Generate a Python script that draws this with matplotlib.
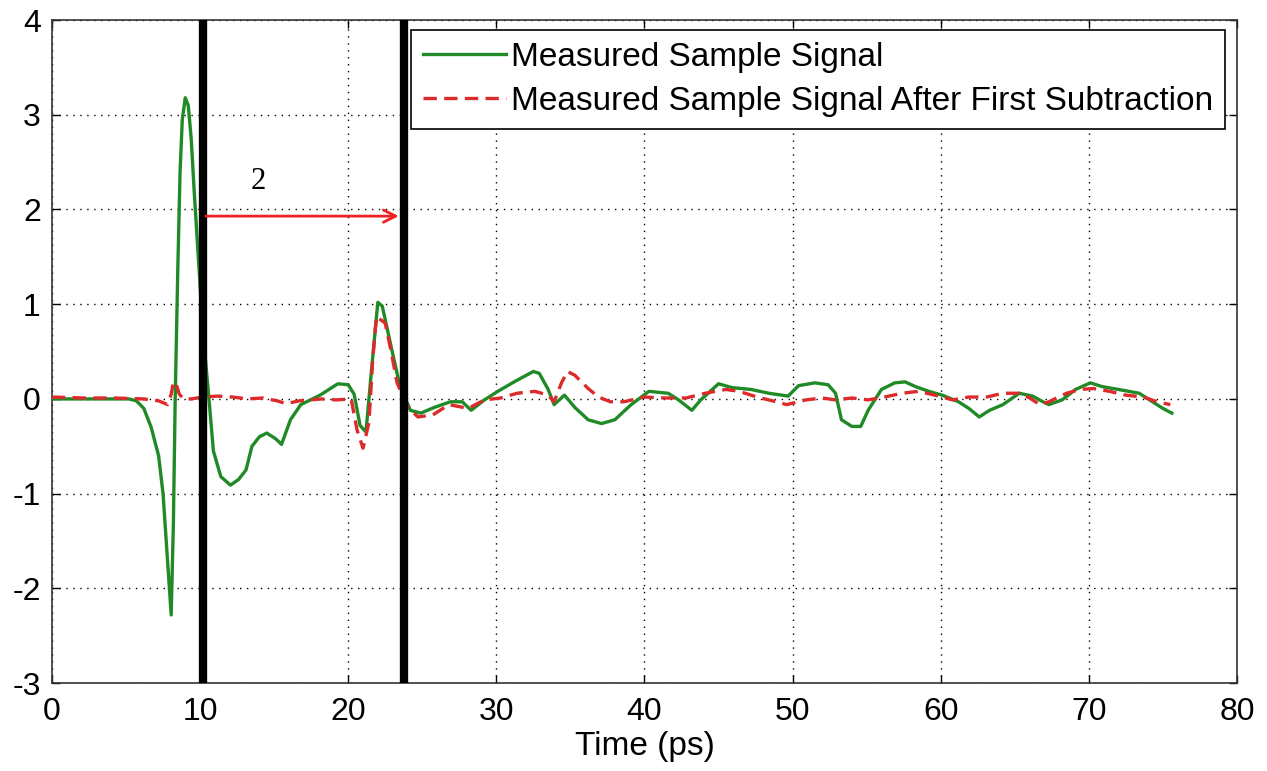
import matplotlib
matplotlib.use("Agg")
import matplotlib.pyplot as plt

plt.rcParams['font.family'] = ['Liberation Sans', 'DejaVu Sans']
plt.rcParams['axes.unicode_minus'] = False

# Measured sample signal (green)
t_green = [0, 2.2, 4.2, 5.2, 5.7, 6.2, 6.7, 7.2, 7.5, 7.8, 8.05, 8.2, 8.32, 8.5, 8.65,
           8.8, 9.0, 9.2, 9.4, 9.6, 9.9, 10.2, 10.6, 10.9, 11.4, 12.05, 12.6, 13.1,
           13.5, 14.0, 14.5, 15.1, 15.5, 16.1, 16.8, 18.1, 19.3, 20.0, 20.4, 20.8,
           21.2, 21.6, 22.0, 22.3, 22.9, 23.5, 24.2, 24.9, 25.8, 26.9, 27.7, 28.3,
           29.2, 30.1, 31.2, 32.5, 32.9, 33.5, 33.9, 34.6, 35.3, 36.2, 37.1, 38.0,
           39.1, 40.3, 41.6, 42.3, 43.2, 43.8, 45.0, 45.9, 47.2, 48.4, 49.7, 50.4,
           51.5, 52.4, 52.9, 53.3, 54.0, 54.6, 55.1, 56.0, 56.9, 57.6, 58.3, 59.2,
           60.1, 61.2, 61.9, 62.6, 63.3, 64.2, 65.3, 66.2, 66.9, 67.3, 68.2, 69.1,
           70.1, 70.9, 72.0, 73.4, 74.3, 75.0, 75.6]
v_green = [0, 0, 0, 0, -0.02, -0.1, -0.3, -0.6, -1.0, -1.7, -2.28, -1.3, 0.0, 1.4, 2.4,
           2.95, 3.18, 3.1, 2.75, 2.2, 1.45, 0.7, 0.0, -0.55, -0.82, -0.91, -0.85,
           -0.75, -0.5, -0.4, -0.36, -0.42, -0.48, -0.22, -0.06, 0.04, 0.16, 0.15,
           0.05, -0.28, -0.35, 0.35, 1.02, 0.98, 0.55, 0.13, -0.12, -0.15, -0.09,
           -0.03, -0.03, -0.12, -0.01, 0.08, 0.18, 0.29, 0.27, 0.1, -0.06, 0.04,
           -0.09, -0.22, -0.26, -0.22, -0.06, 0.08, 0.06, -0.01, -0.12, -0.01, 0.16,
           0.12, 0.10, 0.06, 0.03, 0.14, 0.17, 0.15, 0.06, -0.22, -0.29, -0.29,
           -0.12, 0.1, 0.17, 0.18, 0.13, 0.08, 0.04, -0.03, -0.10, -0.19, -0.12,
           -0.06, 0.06, 0.03, -0.03, -0.06, -0.01, 0.10, 0.17, 0.13, 0.10, 0.06,
           -0.03, -0.10, -0.15]

# Signal after first subtraction (red dashed)
t_red = [0, 2.2, 4.2, 6.2, 7.2, 7.8, 8.05, 8.2, 8.4, 8.6, 8.9, 9.4, 10.2, 11.2, 12.2,
         13.2, 14.2, 15.2, 15.8, 16.7, 18.2, 19.2, 20.2, 20.6, 21.0, 21.4, 21.65,
         21.9, 22.5, 22.9, 23.3, 24.0, 24.7, 25.7, 26.8, 28.1, 29.2, 30.3, 31.4,
         32.6, 33.5, 33.9, 34.4, 34.8, 35.3, 36.2, 36.9, 37.7, 38.6, 40.0, 41.4,
         42.8, 44.1, 45.5, 46.4, 47.6, 48.9, 49.6, 50.9, 52.0, 52.9, 54.0, 55.1,
         56.2, 57.4, 58.5, 59.6, 60.8, 61.9, 63.1, 64.2, 65.3, 66.0, 66.7, 67.3,
         68.5, 69.4, 70.3, 71.4, 72.5, 73.7, 74.6, 75.5]
v_red = [0.02, 0.01, 0.01, 0.0, -0.02, -0.06, 0.05, 0.18, 0.15, 0.05, 0.0, 0.0, 0.02,
         0.03, 0.02, 0.0, 0.01, -0.02, -0.05, -0.02, 0.0, -0.01, 0.0, -0.33, -0.52,
         -0.25, 0.4, 0.87, 0.8, 0.5, 0.17, -0.08, -0.19, -0.17, -0.06, -0.1, -0.01,
         0.01, 0.06, 0.08, 0.04, -0.03, 0.17, 0.29, 0.25, 0.11, 0.02, -0.03, -0.03,
         0.02, 0.01, 0.01, 0.06, 0.10, 0.08, 0.02, -0.03, -0.06, -0.01, 0.01, -0.01,
         0.01, -0.01, 0.02, 0.06, 0.08, 0.04, -0.01, 0.02, 0.02, 0.06, 0.06, 0.01,
         -0.06, -0.03, 0.06, 0.10, 0.11, 0.08, 0.04, 0.02, -0.03, -0.06]

marker_times = [10.2, 23.75]
arrow_start, arrow_end, arrow_y = 10.2, 23.6, 1.93
annot_text, annot_x, annot_y = "2", 13.9, 2.3

x_ticks = [0, 10, 20, 30, 40, 50, 60, 70, 80]
y_ticks = [-3, -2, -1, 0, 1, 2, 3, 4]
labels = ["Measured Sample Signal", "Measured Sample Signal After First Subtraction"]

fig = plt.figure(figsize=(12.67, 7.71), dpi=100)
ax = fig.add_axes([0.041, 0.114, 0.9353, 0.860])

ax.plot(t_green, v_green, color='#1f8a26', lw=2.4, label=labels[0], zorder=3)
ax.plot(t_red, v_red, color='#dd2a2a', lw=2.4, ls=(0, (4, 2.2)), label=labels[1], zorder=4)

for xm in marker_times:
    ax.axvline(xm, color='black', lw=6, zorder=5)

ax.annotate("", xy=(arrow_end, arrow_y), xytext=(arrow_start, arrow_y),
            arrowprops=dict(arrowstyle='->', color='#ee2222', lw=2, mutation_scale=22),
            zorder=6)
ax.text(annot_x, annot_y, annot_text, fontsize=22, family=['Liberation Serif', 'DejaVu Serif'],
        ha='center', va='center')

ax.set_xlim(0, 80)
ax.set_ylim(-3, 4)
ax.set_xticks(x_ticks)
ax.set_yticks(y_ticks)
ax.set_xticklabels([str(v) for v in x_ticks])
ax.set_yticklabels([str(v) for v in y_ticks])
ax.tick_params(direction='in', length=6, width=1, labelsize=23, top=True, right=True)
ax.tick_params(axis='x', pad=10)
ax.tick_params(axis='y', pad=8)
ax.grid(True, color='black', ls=(0, (1, 4)), lw=1)
for s in ax.spines.values():
    s.set_linewidth(1.2)
    s.set_color('#333333')
ax.set_xlabel("Time (ps)", fontsize=24, labelpad=3)

leg = ax.legend(loc='upper right', bbox_to_anchor=(0.99, 0.985), fontsize=24,
                frameon=True, fancybox=False, edgecolor='black', framealpha=1,
                handlelength=2.5, handletextpad=0.15, borderpad=0.35, labelspacing=0.4,
                borderaxespad=0)
leg.get_frame().set_linewidth(1.2)
leg.set_zorder(10)

fig.savefig("out.png", dpi=100)
